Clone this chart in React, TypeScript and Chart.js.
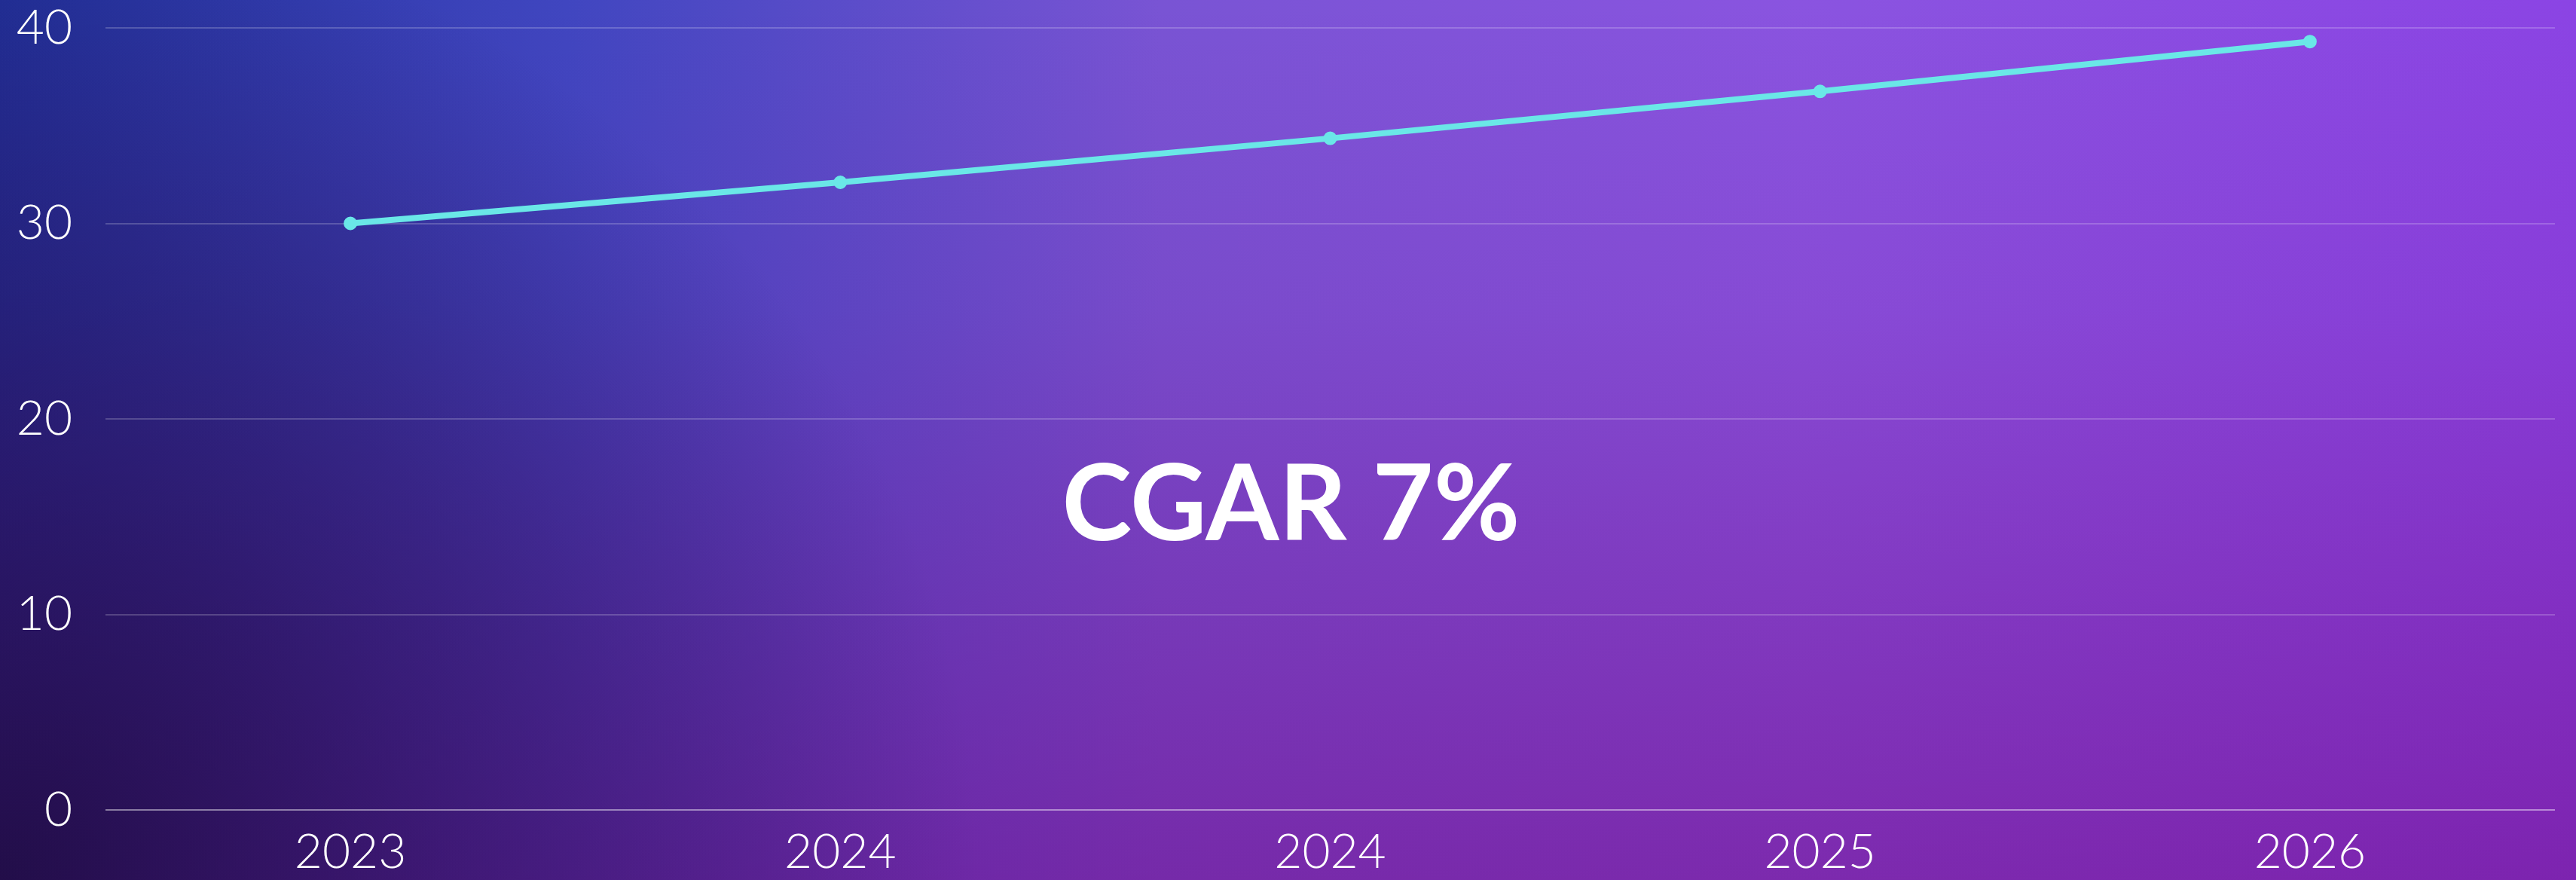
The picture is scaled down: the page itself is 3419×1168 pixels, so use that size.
import React, { useEffect, useRef } from "react";
import { Chart, registerables } from "chart.js";

Chart.register(...registerables);

const categories = ["2023", "2024", "2024", "2025", "2026"];
const marketValues = [30, 32.1, 34.35, 36.75, 39.3];
const yTicks = [0, 10, 20, 30, 40];
const centerLabel = "CGAR 7%";

const W = 3419;
const H = 1168;

const backgroundPlugin = {
  id: "bgGradient",
  beforeDraw(chart: any) {
    const { ctx, width, height } = chart;
    ctx.save();
    const a = ctx.createLinearGradient(0, 0, width, 0);
    a.addColorStop(0, "#22309a");
    a.addColorStop(0.22, "#4046c0");
    a.addColorStop(0.45, "#7954d4");
    a.addColorStop(0.7, "#8a54e0");
    a.addColorStop(1, "#8b44e4");
    ctx.fillStyle = a;
    ctx.fillRect(0, 0, width, height);

    const b = ctx.createLinearGradient(0, 0, 0, height);
    b.addColorStop(0, "rgba(115,10,135,0)");
    b.addColorStop(0.35, "rgba(115,10,135,0.12)");
    b.addColorStop(1, "rgba(115,14,140,0.6)");
    ctx.fillStyle = b;
    ctx.fillRect(0, 0, width, height);

    const c = ctx.createRadialGradient(0, height, 0, 0, height, 1300);
    c.addColorStop(0, "rgba(22,10,55,0.8)");
    c.addColorStop(0.45, "rgba(22,10,60,0.42)");
    c.addColorStop(1, "rgba(22,10,60,0)");
    ctx.fillStyle = c;
    ctx.fillRect(0, 0, width, height);
    ctx.restore();
  },
};

const centerTextPlugin = {
  id: "centerText",
  afterDatasetsDraw(chart: any) {
    const { ctx, chartArea } = chart;
    const x = chartArea.left + (chartArea.right - chartArea.left) * 0.484;
    const y = chartArea.top + (chartArea.bottom - chartArea.top) * 0.655;
    ctx.save();
    ctx.font = "700 140px Lato";
    ctx.fillStyle = "#ffffff";
    ctx.textAlign = "center";
    ctx.textBaseline = "alphabetic";
    ctx.fillText(centerLabel, x, y);
    ctx.restore();
  },
};

export default function App() {
  const ref = useRef<HTMLCanvasElement | null>(null);

  useEffect(() => {
    document.body.style.margin = "0";
    if (!ref.current) return;
    const chart = new Chart(ref.current, {
      type: "line",
      data: {
        labels: categories,
        datasets: [
          {
            data: marketValues,
            borderColor: "#6ae7e7",
            backgroundColor: "#6ae7e7",
            borderWidth: 8,
            pointRadius: 8,
            pointBorderWidth: 2,
            pointBackgroundColor: "#6ae7e7",
            pointBorderColor: "#6ae7e7",
            tension: 0,
            fill: false,
          },
        ],
      },
      options: {
        animation: false,
        responsive: true,
        maintainAspectRatio: false,
        layout: { padding: { top: 37, right: 28, left: 0, bottom: 0 } },
        plugins: {
          legend: { display: false },
          tooltip: { enabled: false },
        },
        scales: {
          x: {
            offset: true,
            grid: { display: false, drawTicks: false },
            border: { display: false },
            ticks: {
              color: "#ffffff",
              font: { family: "Lato", size: 64, weight: 300 as any },
              padding: 18,
              maxRotation: 0,
              autoSkip: false,
            },
            afterFit(scale: any) {
              scale.height = 93;
              scale.paddingLeft = 0;
              scale.paddingRight = 0;
            },
          },
          y: {
            min: 0,
            max: 40,
            afterBuildTicks(scale: any) {
              scale.ticks = yTicks.map((v) => ({ value: v }));
            },
            grid: {
              drawTicks: false,
              lineWidth: 2,
              color: (c: any) =>
                c.tick && c.tick.value === 0
                  ? "rgba(255,255,255,0.45)"
                  : "rgba(255,255,255,0.2)",
            },
            border: { display: false },
            ticks: {
              color: "#ffffff",
              font: { family: "Lato", size: 64, weight: 300 as any },
              padding: 44,
            },
            afterFit(scale: any) {
              scale.width = 140;
              scale.paddingTop = 0;
              scale.paddingBottom = 0;
            },
          },
        },
      },
      plugins: [backgroundPlugin, centerTextPlugin],
    });
    return () => chart.destroy();
  }, []);

  return (
    <div style={{ width: W, height: H, position: "relative" }}>
      <canvas ref={ref} />
    </div>
  );
}
